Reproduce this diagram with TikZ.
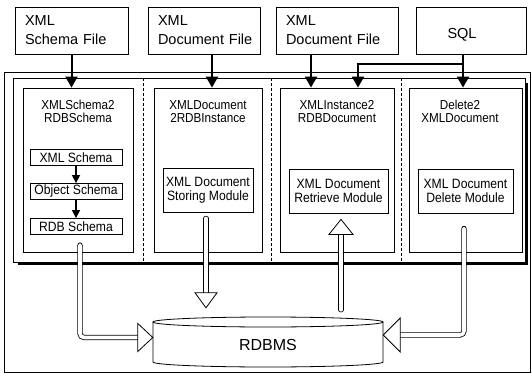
\documentclass[tikz,border=0pt]{standalone}
\usepackage{fontspec}
\setmainfont{Liberation Sans}
\newfontfamily\condfont{Liberation Sans}[FakeStretch=0.9]
\usetikzlibrary{arrows.meta,calc}

\begin{document}
\begin{tikzpicture}[x=1pt,y=-1pt,
  topbox/.style={draw, line width=0.9pt, align=left, inner xsep=10pt, inner ysep=0pt,
    minimum height=47pt, font=\fontsize{14.5}{19}\selectfont},
  frm/.style={draw, line width=0.8pt, inner sep=0pt},
  colbox/.style={draw, line width=0.8pt, inner sep=0pt, minimum height=164pt},
  divider/.style={line width=0.7pt, dash pattern=on 3pt off 2pt},
  title/.style={align=center, inner sep=0pt, font=\fontsize{13}{13}\condfont},
  sub/.style={draw, line width=0.8pt, inner sep=0pt, minimum width=92pt, minimum height=16pt,
    font=\fontsize{13.5}{14}\condfont},
  mod/.style={draw, line width=0.8pt, inner sep=0pt, minimum height=44pt, align=center,
    font=\fontsize{13.5}{14}\condfont},
  arr/.style={line width=2pt, line join=miter, -{Triangle[width=12pt,length=11pt]}},
  smallarr/.style={line width=1.5pt, -{Triangle[width=8pt,length=8pt]}},
  hollow/.style={double=white, double distance=3.6pt, line width=0.8pt, line cap=round, rounded corners=4pt},
  hhead/.style={draw, fill=white, line width=0.8pt, line join=miter},
]
\useasboundingbox (0,0) rectangle (532,374);

% top input boxes
\node[topbox, text width=93pt] (f1) at (71.5,30.5) {XML\\Schema File};
\node[topbox, text width=92pt] (f2) at (204,30.5) {XML\\\mbox{Document File}};
\node[topbox, text width=102pt] (f3) at (337,30.5) {XML\\Document File};
\node[topbox, align=center, minimum width=110pt, inner xsep=0pt] (f4) at (471,30.5) {\mbox{}\\\hspace*{-18pt}SQL};

% outer and inner frames
\node[frm, minimum width=526pt, minimum height=300pt] (outer) at (267,222) {};
\node[frm, minimum width=512pt, minimum height=184pt] (frame) at (269,170) {};
\draw[line width=2.5pt] ($(frame.north east)+(1.2,5)$) -- ($(frame.south east)+(1.2,1.2)$) -- ($(frame.south west)+(5,1.2)$);

% column boxes
\node[colbox, minimum width=110pt] (c1) at (78,170) {};
\node[colbox, minimum width=108pt] (c2) at (208,170) {};
\node[colbox, minimum width=114pt] (c3) at (337,170) {};
\node[colbox, minimum width=113pt] (c4) at (465.5,170) {};

% dividers
\coordinate (d1) at ($(c1.east)!0.5!(c2.west)$);
\coordinate (d2) at ($(c2.east)!0.5!(c3.west)$);
\coordinate (d3) at ($(c3.east)!0.5!(c4.west)$);
\draw[divider] (d1 |- frame.north) -- (d1 |- frame.south);
\draw[divider] (d2 |- frame.north) -- (d2 |- frame.south);
\draw[divider] (d3 |- frame.north) -- (d3 |- frame.south);

% titles
\node[title] (t1) at (78,111.5) {XMLSchema2\\RDBSchema};
\node[title] (t2) at (208,111.5) {XMLDocument\\2RDBInstance};
\node[title] (t3) at (337,111.5) {XMLInstance2\\RDBDocument};
\node[title] (t4) at (460,111.5) {Delete2\\XMLDocument};

% schema pipeline
\node[sub] (s1) at (76,157.5) {XML Schema};
\node[sub] (s2) at (76,191.5) {Object Schema};
\node[sub] (s3) at (76,226.5) {RDB Schema};
\draw[smallarr] (s1.south) -- (s2.north);
\draw[smallarr] (s2.south) -- (s3.north);

% modules
\node[mod, minimum width=90pt] (m2) at (208,190) {XML Document\\Storing Module};
\node[mod, minimum width=99pt] (m3) at (338.5,191) {XML Document\\Retrieve Module};
\node[mod, minimum width=95pt] (m4) at (465.5,191) {XML Document\\Delete Module};

% database
\draw[line width=0.8pt, fill=white] (153,322) -- (153,362) arc[start angle=180, end angle=360, x radius=115pt, y radius=5pt] -- (383,322);
\draw[line width=0.8pt] (268,322) ellipse [x radius=115pt, y radius=5pt];
\node[minimum width=230pt, minimum height=45pt, inner sep=0pt, font=\fontsize{16}{16}\selectfont] (db) at (268,344.5) {RDBMS};

% solid input arrows
\draw[arr] (f1.south) -- (f1.south |- c1.north);
\coordinate (f2s) at ($(f2.south)+(8,0)$);
\draw[arr] (f2s) -- (f2s |- c2.north);
\coordinate (f3s) at ($(f3.south)+(-26,0)$);
\draw[arr] (f3s) -- (f3s |- c3.north);
\coordinate (sq) at ($(f4.south)+(-8,0)$);
\draw[arr] (sq) -- (sq |- c4.north);
\draw[arr] ($(sq)+(0,10)$) -| ($(c3.north)+(21,0)$);

% hollow arrows to / from RDBMS
\coordinate (a1s) at (80,245);
\coordinate (a1t) at ($(db.west)+(0,-7)$);
\draw[hollow] (a1s) |- ($(a1t)+(-15,0)$);
\draw[hhead] (a1t) -- ++(-15,-14) -- ++(0,28) -- cycle;

\coordinate (a2s) at ($(m2.south)+(-2,6)$);
\coordinate (a2t) at ($(a2s |- db.north)+(0,-14)$);
\draw[hollow] (a2s) -- ($(a2t)+(0,-15)$);
\draw[hhead] (a2t) -- ++(-11,-15) -- ++(22,0) -- cycle;

\coordinate (a3t) at ($(m3.south)+(2.5,6)$);
\coordinate (a3s) at ($(a3t |- db.north)+(0,-12)$);
\draw[hollow] (a3s) -- ($(a3t)+(0,15)$);
\draw[hhead] (a3t) -- ++(-12,15) -- ++(24,0) -- cycle;

\coordinate (a4s) at ($(m4.south)+(-1.5,15)$);
\coordinate (a4t) at ($(db.east)+(0,-9.5)$);
\draw[hollow] (a4s) |- ($(a4t)+(17,0)$);
\draw[hhead] (a4t) -- ++(17,-17) -- ++(0,34) -- cycle;
\end{tikzpicture}
\end{document}
